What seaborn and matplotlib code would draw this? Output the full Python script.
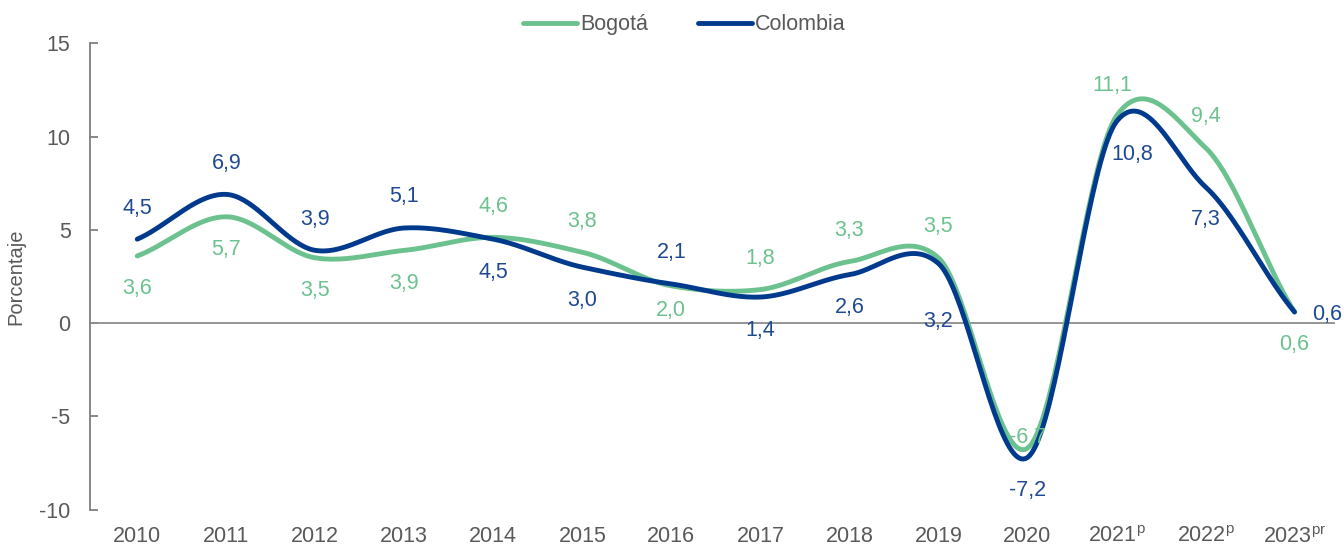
import numpy as np
import pandas as pd
import matplotlib
matplotlib.use('Agg')
import matplotlib.pyplot as plt
import seaborn as sns

years = ['2010', '2011', '2012', '2013', '2014', '2015', '2016', '2017',
         '2018', '2019', '2020', '2021$^{\\mathrm{p}}$', '2022$^{\\mathrm{p}}$', '2023$^{\\mathrm{pr}}$']
bogota = [3.6, 5.7, 3.5, 3.9, 4.6, 3.8, 2.0, 1.8, 3.3, 3.5, -6.7, 11.1, 9.4, 0.6]
colombia = [4.5, 6.9, 3.9, 5.1, 4.5, 3.0, 2.1, 1.4, 2.6, 3.2, -7.2, 10.8, 7.3, 0.6]

# posicion de etiquetas: 'a' arriba, 'b' abajo
pos_bog = ['b', 'b', 'b', 'b', 'a', 'a', 'b', 'a', 'a', 'a', 'c', 'a', 'a', 'b']
pos_col = ['a', 'a', 'a', 'a', 'b', 'b', 'a', 'b', 'b', 'b', 'b', 'b', 'b', 'r']

GREEN = '#6cc28f'
NAVY = '#003a8c'
GREY = '#595959'

sns.set_theme(style='white')
plt.rcParams['font.family'] = ['Liberation Sans', 'DejaVu Sans']
plt.rcParams['mathtext.fontset'] = 'custom'
plt.rcParams['mathtext.rm'] = 'Liberation Sans'
plt.rcParams['axes.unicode_minus'] = False


def smooth(vals, n=40):
    # curva suavizada tipo Catmull-Rom entre puntos
    y = np.asarray(vals, dtype=float)
    k = len(y)
    m = np.zeros(k)
    m[1:-1] = (y[2:] - y[:-2]) / 2
    m[0] = y[1] - y[0]
    m[-1] = y[-1] - y[-2]
    m = m * 0.85
    xs, ys = [], []
    for i in range(k - 1):
        t = np.linspace(0, 1, n, endpoint=False)
        h00 = 2 * t**3 - 3 * t**2 + 1
        h10 = t**3 - 2 * t**2 + t
        h01 = -2 * t**3 + 3 * t**2
        h11 = t**3 - t**2
        xs.extend(i + t)
        ys.extend(h00 * y[i] + h10 * m[i] + h01 * y[i + 1] + h11 * m[i + 1])
    xs.append(k - 1)
    ys.append(y[-1])
    return np.array(xs), np.array(ys)


frames = []
for name, vals in [('Bogotá', bogota), ('Colombia', colombia)]:
    sx, sy = smooth(vals)
    frames.append(pd.DataFrame({'x': sx, 'y': sy, 'serie': name}))
df = pd.concat(frames)

fig = plt.figure(figsize=(13.44, 5.47), dpi=100)
ax = fig.add_axes([0.067, 0.068, 0.926, 0.853])

ax.axhline(0, color='#8c8c8c', lw=1.3, zorder=1)
sns.lineplot(data=df, x='x', y='y', hue='serie', palette={'Bogotá': GREEN, 'Colombia': NAVY},
             linewidth=3.5, sort=False, estimator=None, ax=ax, zorder=3)

FS = 15.5
for i in range(len(years)):
    for vals, pos, col in [(bogota, pos_bog, GREEN), (colombia, pos_col, '#1f4a93')]:
        v = vals[i]
        p = pos[i]
        txt = f'{v:.1f}'.replace('.', ',')
        dx, dy, ha = 0, 31, 'center'
        if p == 'b':
            dy = -33
        if p == 'r':
            dx, dy, ha = 18, -3, 'left'
        if p == 'c':
            dy = 11
        if i == 9 and p == 'b':
            dy = -58
        if i == 6 and p == 'b':
            dy = -25
        if i == 11:
            dx = -4 if p == 'a' else 16
        ax.annotate(txt, (i, v), xytext=(dx, dy), textcoords='offset pixels',
                    ha=ha, va='center', color=col, fontsize=FS)

ax.set_xlim(-0.53, 13.45)
ax.set_ylim(-10, 15)
ax.set_yticks(range(-10, 16, 5))
ax.set_xticks(range(len(years)))
ax.set_xticklabels(years)
ax.set_xlabel('')
ax.set_ylabel('Porcentaje', color=GREY, fontsize=14.5, labelpad=10)

for s in ['top', 'right', 'bottom']:
    ax.spines[s].set_visible(False)
ax.spines['left'].set_color('#7f7f7f')
ax.spines['left'].set_linewidth(1.3)
ax.tick_params(axis='y', direction='in', length=6, width=1.3, color='#7f7f7f',
               labelcolor=GREY, labelsize=FS, pad=14, left=True)
ax.tick_params(axis='x', length=0, labelcolor=GREY, labelsize=FS, pad=12)

handles, labels = ax.get_legend_handles_labels()
ax.legend(handles, labels, loc='center', bbox_to_anchor=(0.4775, 1.04), ncol=2,
          frameon=False, fontsize=FS, handlelength=2.5, handletextpad=0.15,
          columnspacing=2.3, labelcolor=GREY)

fig.savefig('out.png', dpi=100)
